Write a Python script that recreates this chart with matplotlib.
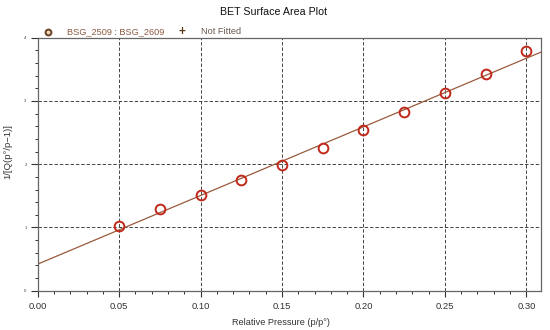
import matplotlib
matplotlib.use("Agg")
import matplotlib.pyplot as plt
from matplotlib.ticker import MultipleLocator
import numpy as np

plt.rcParams['font.family'] = ['Liberation Sans', 'DejaVu Sans']

# Data
rel_pressure = [0.05, 0.075, 0.10, 0.125, 0.15, 0.175, 0.20, 0.225, 0.25, 0.275, 0.30]
bet_values = [1.03, 1.29, 1.51, 1.75, 1.99, 2.25, 2.54, 2.82, 3.12, 3.42, 3.79]
fit_intercept = 0.42
fit_slope = 10.85
x_ticks = [0.00, 0.05, 0.10, 0.15, 0.20, 0.25, 0.30]
x_tick_labels = ["0.00", "0.05", "0.10", "0.15", "0.20", "0.25", "0.30"]
y_ticks = [0, 1, 2, 3, 4]
series_label = "BSG_2509 : BSG_2609"
not_fitted_label = "Not Fitted"

fig = plt.figure(figsize=(5.5, 3.3), dpi=100)
W, H = 550, 330
ax = fig.add_axes([37.7 / W, 1 - 290.7 / H, (541 - 37.7) / W, (290.7 - 37.7) / H])

x_max = 0.309
ax.set_xlim(0, x_max)
ax.set_ylim(0, 4)

fit_x = np.array([0, x_max])
ax.plot(fit_x, fit_intercept + fit_slope * fit_x, color='#9a5a3c', lw=0.9, zorder=2)
ax.plot(rel_pressure, bet_values, linestyle='none', marker='o', markersize=7,
        markerfacecolor='none', markeredgecolor='#c0281a', markeredgewidth=1.4, zorder=3)

ax.set_xticks(x_ticks)
ax.set_xticklabels(x_tick_labels)
ax.xaxis.set_minor_locator(MultipleLocator(0.01))
ax.set_yticks(y_ticks)
ax.yaxis.set_minor_locator(MultipleLocator(0.2))

ax.tick_params(axis='x', which='major', direction='out', length=4, width=0.8,
               labelsize=6.8, colors='#333333', pad=4)
ax.tick_params(axis='x', which='minor', direction='out', length=2.5, width=0.7, colors='#333333')
ax.tick_params(axis='y', which='major', direction='out', length=5, width=0.8,
               labelsize=3, colors='#333333', pad=3)
ax.tick_params(axis='y', which='minor', direction='out', length=2.5, width=0.7, colors='#333333')

ax.grid(True, which='major', linestyle=(0, (3.5, 2)), color='#444444', lw=0.7)
ax.set_axisbelow(True)
for s in ax.spines.values():
    s.set_color('#666666')
    s.set_linewidth(0.9)

ax.set_xlabel("Relative Pressure (p/p°)", fontsize=6.6, color='#333333')
ax.xaxis.set_label_coords((281 - 37.7) / (541 - 37.7), -(318 - 290.7) / (290.7 - 37.7))
ax.set_ylabel("1/[Q(p°/p−1)]", fontsize=6.8, color='#333333')
ax.yaxis.set_label_coords(-(37.7 - 12) / (541 - 37.7), 0.55)

fig.text(274 / W, 1 - 12 / H, "BET Surface Area Plot", ha='center', va='center',
         fontsize=7.7, color='#111111')

# Legend row above the plot
fig.lines.append(plt.Line2D([48 / W], [1 - 32 / H], marker='o', markersize=4.2,
                            markerfacecolor='#f0d8c0', markeredgecolor='#6a4020',
                            markeredgewidth=1.4, transform=fig.transFigure))
fig.text(67 / W, 1 - 31.5 / H, series_label, ha='left', va='center', fontsize=6.6, color='#8a5a40')
fig.text(182 / W, 1 - 32 / H, "+", ha='center', va='center', fontsize=8.5, fontweight='bold',
         color='#5a3a1a')
fig.text(201 / W, 1 - 31.5 / H, not_fitted_label, ha='left', va='center', fontsize=6.6, color='#6a5a50')

fig.savefig("out.png", dpi=100)
